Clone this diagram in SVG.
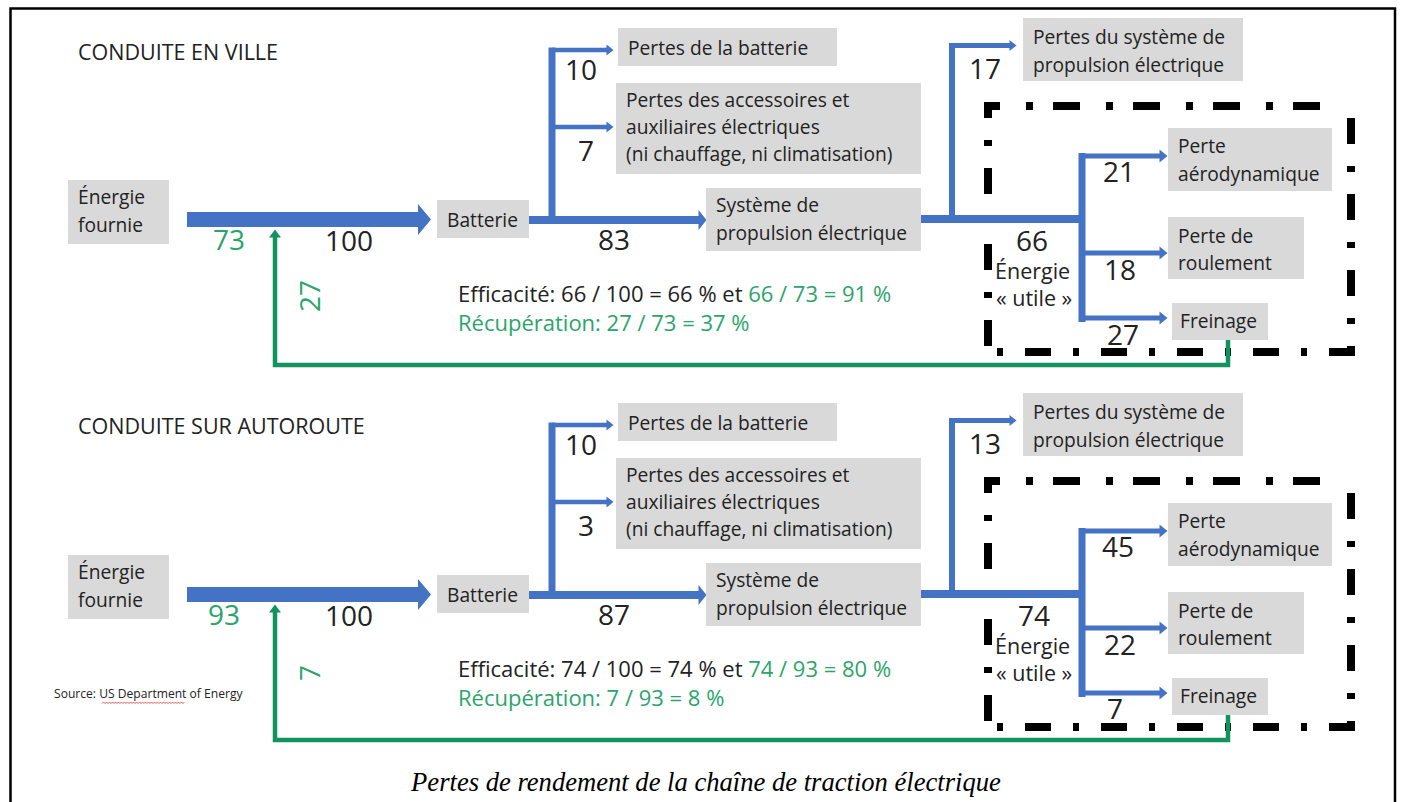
<svg xmlns="http://www.w3.org/2000/svg" width="1403" height="802" viewBox="0 0 1403 802">
<style>
.box{fill:#d9d9d9}
.t{font-family:"Open Sans","Noto Sans",sans-serif;font-size:19.2px;fill:#222}
.tu{font-family:"Open Sans","Noto Sans",sans-serif;font-size:21.5px;fill:#222}
.n{font-family:"Open Sans","Noto Sans",sans-serif;font-size:28px;fill:#222}
.ng{font-family:"Open Sans","Noto Sans",sans-serif;font-size:28px;fill:#2aa56a}
.title{font-family:"Open Sans","Noto Sans",sans-serif;font-size:21.5px;fill:#222}
.eff{font-family:"Open Sans","Noto Sans",sans-serif;font-size:22px;fill:#222}
.src{font-family:"Open Sans","Noto Sans",sans-serif;font-size:12.1px;fill:#222}
.g{fill:#2aa56a}
.bl{stroke:#4472c4;fill:none}
.w8{stroke-width:8}
.w7{stroke-width:7}
.w6{stroke-width:6}
.w5{stroke-width:5}
.w4{stroke-width:4.5}
.gr{stroke:#12925e;stroke-width:4.5;fill:none}
.dt{stroke:#000;stroke-width:8;fill:none}
.dh{stroke-dasharray:27 26 7 20}
.dv{stroke-dasharray:26 22 6 22}
.cap{font-family:"Liberation Serif","Times New Roman",serif;font-style:italic;font-size:26.6px;fill:#000}
</style>
<defs>
<marker id="hs" markerUnits="userSpaceOnUse" markerWidth="10" markerHeight="14" refX="0.5" refY="6" orient="auto" overflow="visible"><path d="M0,0.5 L7,6 L0,11.5z" fill="#4472c4"/></marker>
<marker id="hr" markerUnits="userSpaceOnUse" markerWidth="10" markerHeight="14" refX="0.5" refY="6.5" orient="auto" overflow="visible"><path d="M0,0 L8,6.5 L0,13z" fill="#4472c4"/></marker>
<marker id="hm" markerUnits="userSpaceOnUse" markerWidth="10" markerHeight="22" refX="0.5" refY="10" orient="auto" overflow="visible"><path d="M0,0 L8,10 L0,20z" fill="#4472c4"/></marker>
<marker id="hg" markerUnits="userSpaceOnUse" markerWidth="10" markerHeight="14" refX="0.5" refY="6" orient="auto" overflow="visible"><path d="M0,0 L8,6 L0,12z" fill="#12925e"/></marker>
</defs>
<rect width="1403" height="802" fill="#fff"/>
<path d="M10.5,802 V8.5 H1395 V802" fill="none" stroke="#000" stroke-width="2.5"/>

<!-- ===== Section 1 ===== -->
<g id="section-ville">
<g id="frame-utile-ville">
<line class="dt dh" x1="984" y1="106" x2="1346" y2="106" stroke-dashoffset="11"/>
<line class="dt dv" x1="988" y1="102" x2="988" y2="356" stroke-dashoffset="10"/>
<line class="dt dv" x1="1351" y1="102" x2="1351" y2="356" stroke-dashoffset="60"/>
<line class="dt dv" x1="984" y1="352" x2="1355" y2="352" stroke-dashoffset="35"/>
</g>
<g id="connectors-ville">
<polygon points="187,212 418,212 418,204 431,219.5 418,235 418,227 187,227" fill="#4472c4"/>
<path class="gr" d="M1228,333 V365 H275 V237" marker-end="url(#hg)"/>
<line class="bl w7" x1="552" y1="47.5" x2="552" y2="223"/>
<line class="bl w4" x1="552" y1="50" x2="607" y2="50" marker-end="url(#hs)"/>
<line class="bl w4" x1="552" y1="127" x2="607" y2="127" marker-end="url(#hs)"/>
<line class="bl w8" x1="529" y1="220" x2="699" y2="220" marker-end="url(#hm)"/>
<line class="bl w8" x1="921" y1="219" x2="1085" y2="219"/>
<line class="bl w6" x1="952" y1="43" x2="952" y2="219"/>
<line class="bl w5" x1="952" y1="45.5" x2="1010" y2="45.5" marker-end="url(#hs)"/>
<line class="bl w7" x1="1082" y1="153" x2="1082" y2="322"/>
<line class="bl w5" x1="1082" y1="156" x2="1160" y2="156" marker-end="url(#hr)"/>
<line class="bl w5" x1="1082" y1="253" x2="1160" y2="253" marker-end="url(#hr)"/>
<line class="bl w5" x1="1082" y1="318" x2="1160" y2="318" marker-end="url(#hr)"/>
</g>
<text class="title" x="78" y="60">CONDUITE EN VILLE</text>
<g id="v-energie-fournie"><rect class="box" x="68" y="180" width="101" height="64"/><text class="t" x="78" y="204">Énergie</text><text class="t" x="78" y="232">fournie</text></g>
<g id="v-batterie"><rect class="box" x="437" y="200" width="92" height="38"/><text class="t" x="447" y="227">Batterie</text></g>
<g id="v-pertes-batterie"><rect class="box" x="618" y="28" width="219" height="38"/><text class="t" x="628" y="55">Pertes de la batterie</text></g>
<g id="v-accessoires"><rect class="box" x="616" y="83" width="305" height="91"/><text class="t" x="626" y="107">Pertes des accessoires et</text><text class="t" x="626" y="134">auxiliaires électriques</text><text class="t" x="626" y="161">(ni chauffage, ni climatisation)</text></g>
<g id="v-systeme"><rect class="box" x="706" y="188" width="215" height="63"/><text class="t" x="716" y="212">Système de</text><text class="t" x="716" y="240">propulsion électrique</text></g>
<g id="v-pertes-systeme"><rect class="box" x="1023" y="18" width="220" height="63"/><text class="t" x="1033" y="44">Pertes du système de</text><text class="t" x="1033" y="72">propulsion électrique</text></g>
<g id="v-aero"><rect class="box" x="1168" y="128" width="164" height="63"/><text class="t" x="1178" y="153">Perte</text><text class="t" x="1178" y="181">aérodynamique</text></g>
<g id="v-roulement"><rect class="box" x="1168" y="217" width="136" height="62"/><text class="t" x="1178" y="243">Perte de</text><text class="t" x="1178" y="270">roulement</text></g>
<g id="v-freinage"><rect class="box" x="1172" y="303" width="96" height="37"/><text class="t" x="1180" y="328">Freinage</text></g>
<g id="v-labels">
<text class="ng" x="213" y="250">73</text>
<text class="n" x="325" y="251">100</text>
<text class="ng" transform="translate(320,312) rotate(-90)">27</text>
<text class="n" x="565" y="80">10</text>
<text class="n" x="578" y="161">7</text>
<text class="n" x="598" y="250">83</text>
<text class="n" x="969" y="79">17</text>
<text class="n" x="1103" y="182">21</text>
<text class="n" x="1104" y="280">18</text>
<text class="n" x="1107" y="345">27</text>
<text class="n" x="1016" y="251">66</text>
<text class="tu" x="995" y="279">Énergie</text>
<text class="tu" x="996" y="306">« utile »</text>
<text class="eff" x="458" y="302">Efficacité: 66 / 100 = 66 % et <tspan class="g">66 / 73 = 91 %</tspan></text>
<text class="eff g" x="458" y="331">Récupération: 27 / 73 = 37 %</text>
</g>
</g>

<!-- ===== Section 2 ===== -->
<g id="section-autoroute" transform="translate(0,375)">
<g id="frame-utile-autoroute">
<line class="dt dh" x1="984" y1="106" x2="1346" y2="106" stroke-dashoffset="11"/>
<line class="dt dv" x1="988" y1="102" x2="988" y2="356" stroke-dashoffset="10"/>
<line class="dt dv" x1="1351" y1="102" x2="1351" y2="356" stroke-dashoffset="60"/>
<line class="dt dv" x1="984" y1="352" x2="1355" y2="352" stroke-dashoffset="35"/>
</g>
<g id="connectors-autoroute">
<polygon points="187,212 418,212 418,204 431,219.5 418,235 418,227 187,227" fill="#4472c4"/>
<path class="gr" d="M1228,333 V365 H275 V237" marker-end="url(#hg)"/>
<line class="bl w7" x1="552" y1="47.5" x2="552" y2="223"/>
<line class="bl w4" x1="552" y1="50" x2="607" y2="50" marker-end="url(#hs)"/>
<line class="bl w4" x1="552" y1="127" x2="607" y2="127" marker-end="url(#hs)"/>
<line class="bl w8" x1="529" y1="220" x2="699" y2="220" marker-end="url(#hm)"/>
<line class="bl w8" x1="921" y1="219" x2="1085" y2="219"/>
<line class="bl w6" x1="952" y1="43" x2="952" y2="219"/>
<line class="bl w5" x1="952" y1="45.5" x2="1010" y2="45.5" marker-end="url(#hs)"/>
<line class="bl w7" x1="1082" y1="153" x2="1082" y2="322"/>
<line class="bl w5" x1="1082" y1="156" x2="1160" y2="156" marker-end="url(#hr)"/>
<line class="bl w5" x1="1082" y1="253" x2="1160" y2="253" marker-end="url(#hr)"/>
<line class="bl w5" x1="1082" y1="318" x2="1160" y2="318" marker-end="url(#hr)"/>
</g>
<text class="title" x="78" y="59">CONDUITE SUR AUTOROUTE</text>
<g id="a-energie-fournie"><rect class="box" x="68" y="180" width="101" height="64"/><text class="t" x="78" y="204">Énergie</text><text class="t" x="78" y="232">fournie</text></g>
<g id="a-batterie"><rect class="box" x="437" y="200" width="92" height="38"/><text class="t" x="447" y="227">Batterie</text></g>
<g id="a-pertes-batterie"><rect class="box" x="618" y="28" width="219" height="38"/><text class="t" x="628" y="55">Pertes de la batterie</text></g>
<g id="a-accessoires"><rect class="box" x="616" y="83" width="305" height="91"/><text class="t" x="626" y="107">Pertes des accessoires et</text><text class="t" x="626" y="134">auxiliaires électriques</text><text class="t" x="626" y="161">(ni chauffage, ni climatisation)</text></g>
<g id="a-systeme"><rect class="box" x="706" y="188" width="215" height="63"/><text class="t" x="716" y="212">Système de</text><text class="t" x="716" y="240">propulsion électrique</text></g>
<g id="a-pertes-systeme"><rect class="box" x="1023" y="18" width="220" height="63"/><text class="t" x="1033" y="44">Pertes du système de</text><text class="t" x="1033" y="72">propulsion électrique</text></g>
<g id="a-aero"><rect class="box" x="1168" y="128" width="164" height="63"/><text class="t" x="1178" y="153">Perte</text><text class="t" x="1178" y="181">aérodynamique</text></g>
<g id="a-roulement"><rect class="box" x="1168" y="217" width="136" height="62"/><text class="t" x="1178" y="243">Perte de</text><text class="t" x="1178" y="270">roulement</text></g>
<g id="a-freinage"><rect class="box" x="1172" y="303" width="96" height="37"/><text class="t" x="1180" y="328">Freinage</text></g>
<g id="a-labels">
<text class="ng" x="208" y="250">93</text>
<text class="n" x="325" y="251">100</text>
<text class="ng" transform="translate(320,306) rotate(-90)">7</text>
<text class="n" x="565" y="80">10</text>
<text class="n" x="578" y="161">3</text>
<text class="n" x="598" y="250">87</text>
<text class="n" x="969" y="79">13</text>
<text class="n" x="1102" y="182">45</text>
<text class="n" x="1104" y="280">22</text>
<text class="n" x="1107" y="344">7</text>
<text class="n" x="1018" y="251">74</text>
<text class="tu" x="995" y="279">Énergie</text>
<text class="tu" x="996" y="306">« utile »</text>
<text class="eff" x="458" y="302">Efficacité: 74 / 100 = 74 % et <tspan class="g">74 / 93 = 80 %</tspan></text>
<text class="eff g" x="458" y="331">Récupération: 7 / 93 = 8 %</text>
</g>
</g>

<g id="source">
<text class="src" x="54" y="698">Source: US Department of Energy</text>
<path d="M102,703.5 l1.5,-1.5 l1.5,1.5 l1.5,-1.5 l1.5,1.5 l1.5,-1.5 l1.5,1.5 l1.5,-1.5 l1.5,1.5 l1.5,-1.5 l1.5,1.5 l1.5,-1.5 l1.5,1.5 l1.5,-1.5 l1.5,1.5 l1.5,-1.5 l1.5,1.5 l1.5,-1.5 l1.5,1.5 l1.5,-1.5 l1.5,1.5 l1.5,-1.5 l1.5,1.5 l1.5,-1.5 l1.5,1.5 l1.5,-1.5 l1.5,1.5 l1.5,-1.5 l1.5,1.5 l1.5,-1.5 l1.5,1.5 l1.5,-1.5 l1.5,1.5 l1.5,-1.5 l1.5,1.5 l1.5,-1.5 l1.5,1.5 l1.5,-1.5 l1.5,1.5 l1.5,-1.5 l1.5,1.5 l1.5,-1.5 l1.5,1.5 l1.5,-1.5 l1.5,1.5 l1.5,-1.5 l1.5,1.5 l1.5,-1.5 l1.5,1.5 l1.5,-1.5 l1.5,1.5 l1.5,-1.5 l1.5,1.5 l1.5,-1.5 l1.5,1.5 l1.5,-1.5" fill="none" stroke="#e03030" stroke-width="0.8"/>
</g>
<text class="cap" x="706" y="791" text-anchor="middle">Pertes de rendement de la chaîne de traction électrique</text>
</svg>
